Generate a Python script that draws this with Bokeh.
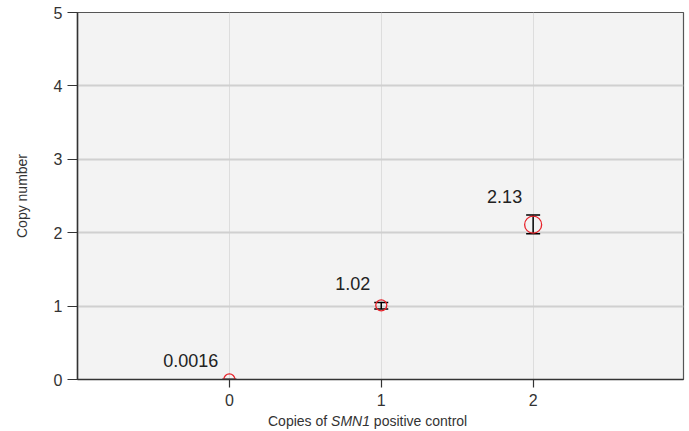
from bokeh.plotting import figure
from bokeh.models import ColumnDataSource, Whisker, FixedTicker, Div
from bokeh.layouts import column
from bokeh.core.properties import value
from bokeh.embed import file_html
from bokeh.resources import INLINE

# data
copies = [0, 1, 2]
copy_number = [0.0016, 1.01, 2.11]
err_lower = [0.0016, 0.96, 1.985]
err_upper = [0.0016, 1.05, 2.24]
value_labels = ["0.0016", "1.02", "2.13"]
marker_size = [11, 11, 17]
y_ticks = [0, 1, 2, 3, 4, 5]
x_ticks = [0, 1, 2]

FONT = "Liberation Sans"
TXT = "#333333"

src = ColumnDataSource(dict(x=copies, y=copy_number, lo=err_lower, hi=err_upper,
                            lab=value_labels, size=marker_size))

p = figure(width=687, height=412, output_backend="svg", toolbar_location=None,
           x_range=(-1.0, 2.99), y_range=(0, 5),
           min_border_left=77, min_border_right=4, min_border_top=12, min_border_bottom=33)

p.background_fill_color = "#f3f3f3"
p.border_fill_color = "white"
p.outline_line_color = "#555555"
p.outline_line_width = 1.2

p.xgrid.ticker = FixedTicker(ticks=x_ticks)
p.ygrid.ticker = FixedTicker(ticks=y_ticks)
p.xgrid.grid_line_color = "#dddddd"
p.xgrid.grid_line_width = 1
p.ygrid.grid_line_color = "#d0d0d0"
p.ygrid.grid_line_width = 2

for ax in (p.xaxis[0], p.yaxis[0]):
    ax.axis_line_color = "#333333"
    ax.axis_line_width = 1.5
    ax.major_tick_line_color = "#333333"
    ax.major_tick_line_width = 1.2
    ax.minor_tick_line_color = None
    ax.major_tick_in = 0
    ax.major_label_text_font = FONT
    ax.major_label_text_font_size = "16px"
    ax.major_label_text_color = TXT
    ax.axis_label_text_font = FONT
    ax.axis_label_text_font_size = "14px"
    ax.axis_label_text_font_style = "normal"
    ax.axis_label_text_color = TXT

p.xaxis.ticker = FixedTicker(ticks=x_ticks)
p.yaxis.ticker = FixedTicker(ticks=y_ticks)
p.xaxis.major_tick_out = 8
p.xaxis.major_label_standoff = 6
p.yaxis.major_tick_out = 10
p.yaxis.major_label_standoff = 5
p.yaxis.axis_label = "Copy number"
p.yaxis.axis_label_standoff = 21

# error bars
w = Whisker(source=src, base="x", lower="lo", upper="hi",
            line_color="black", line_width=1.5)
w.upper_head.size = 14
w.lower_head.size = 14
w.upper_head.line_color = "black"
w.lower_head.line_color = "black"
w.upper_head.line_width = 1.5
w.lower_head.line_width = 1.5
p.add_layout(w)

p.scatter("x", "y", source=src, size="size", marker="circle",
          fill_color=None, line_color="#e8232b", line_width=1.3)

p.text("x", "hi", text="lab", source=src, x_offset=-11, y_offset=-19,
       text_align="right", text_baseline="middle",
       text_font=value(FONT), text_font_size="18px", text_color="#222222")

# x axis label with italic gene name (HTML, so that part can be italic)
xlabel = Div(text="Copies of <i>SMN1</i> positive control",
             width=687, height=19, margin=0,
             styles={"padding-left": "268px", "font-family": FONT,
                     "font-size": "14px", "color": TXT, "line-height": "19px",
                     "white-space": "nowrap"})

layout = column(p, xlabel, spacing=0)

open("out.html", "w").write(file_html(layout, INLINE))
